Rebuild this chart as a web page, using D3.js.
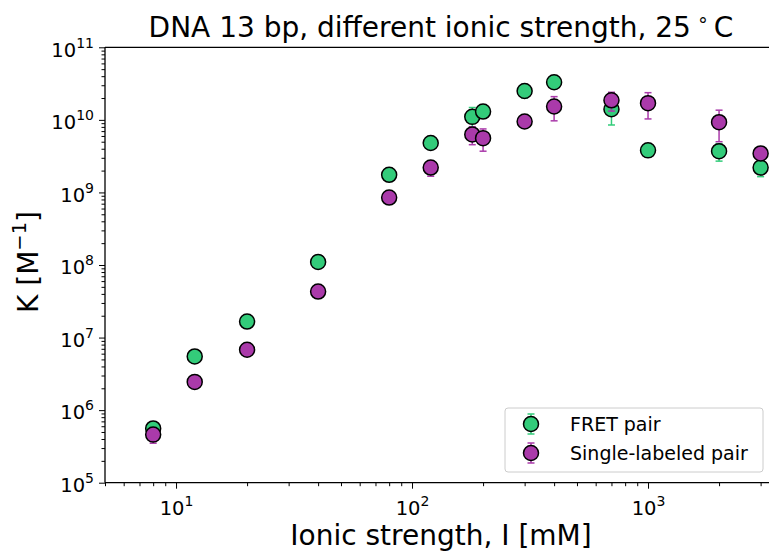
<!DOCTYPE html>
<html>
<head>
<meta charset="utf-8">
<script src="https://cdn.jsdelivr.net/npm/d3@7"></script>
<style>
  html, body { margin: 0; padding: 0; background: #fff; }
  svg { display: block; font-family: "DejaVu Sans", sans-serif; }
</style>
</head>
<body>
<script>
// ---- data ----
const ionic = [8, 12, 20, 40, 80, 120, 180, 200, 300, 400, 700, 1000, 2000, 3000];
const fretK = [5.6e5, 5.5e6, 1.66e7, 1.1e8, 1.75e9, 4.8e9, 1.1e10, 1.3e10, 2.5e10, 3.3e10, 1.4e10, 3.8e9, 3.7e9, 2.2e9];
const fretErr = [5e4, 3e5, 1e6, 5e6, 1e8, 4e8, 3.8e9, 1e9, 5e9, 2e9, 5.5e9, 2e8, 1e9, 5.5e8];
const singleK = [4.6e5, 2.45e6, 6.8e6, 4.3e7, 8.5e8, 2.2e9, 6.3e9, 5.6e9, 9.5e9, 1.53e10, 1.86e10, 1.7e10, 9.3e9, 3.45e9];
const singleErr = [1.1e5, 1.5e5, 5e5, 3e6, 5e7, 5.3e8, 1.75e9, 1.9e9, 5e8, 5.6e9, 5.4e9, 6.7e9, 4.3e9, 3e8];
const seriesNames = ["FRET pair", "Single-labeled pair"];
const seriesColors = ["#33cc7a", "#aa3aaa"];
const xMajorTicks = [10, 100, 1000];
const yMajorTicks = [1e5, 1e6, 1e7, 1e8, 1e9, 1e10, 1e11];
const titleText = "DNA 13 bp, different ionic strength, 25";
const xLabelText = "Ionic strength, I [mM]";

const W = 769, H = 551;
const svg = d3.select("body").append("svg").attr("width", W).attr("height", H);

const x = d3.scaleLog().domain([5, 4000]).range([105, 790.1]);
const y = d3.scaleLog().domain([1e5, 1e11]).range([482.7, 47.3]);

const x0 = x.range()[0], x1 = x.range()[1], yB = y.range()[0], yT = y.range()[1];

function minorTicks(domain) {
  const out = [];
  const lo = Math.floor(Math.log10(domain[0])), hi = Math.ceil(Math.log10(domain[1]));
  for (let e = lo; e <= hi; e++) {
    for (let m = 2; m <= 9; m++) {
      const v = m * Math.pow(10, e);
      if (v >= domain[0] && v <= domain[1]) out.push(v);
    }
  }
  return out;
}

function supLabel(sel, v) {
  const e = Math.round(Math.log10(v));
  sel.text(null);
  sel.append("tspan").text("10");
  sel.append("tspan").attr("dy", "-9px").style("font-size", "14px").text(String(e));
}

// x axis
const gx = svg.append("g").attr("transform", `translate(0,${yB})`);
gx.call(d3.axisBottom(x).tickValues(minorTicks(x.domain())).tickFormat("").tickSizeOuter(0).tickSize(3.5));
gx.select(".domain").remove();
const gxM = svg.append("g").attr("transform", `translate(0,${yB})`);
gxM.call(d3.axisBottom(x).tickValues(xMajorTicks).tickSizeOuter(0).tickSize(6).tickPadding(8));
gxM.select(".domain").remove();
gxM.selectAll(".tick text").style("font-size", "19.5px").style("font-family", "DejaVu Sans")
  .attr("fill", "#000").attr("dy", "0.95em").each(function(d) { supLabel(d3.select(this), d); });

// y axis
const gy = svg.append("g").attr("transform", `translate(${x0},0)`);
gy.call(d3.axisLeft(y).tickValues(minorTicks(y.domain())).tickFormat("").tickSizeOuter(0).tickSize(3.5));
gy.select(".domain").remove();
const gyM = svg.append("g").attr("transform", `translate(${x0},0)`);
gyM.call(d3.axisLeft(y).tickValues(yMajorTicks).tickSizeOuter(0).tickSize(6).tickPadding(5));
gyM.select(".domain").remove();
gyM.selectAll(".tick text").style("font-size", "19.5px").style("font-family", "DejaVu Sans")
  .attr("fill", "#000").attr("dy", "0.45em").each(function(d) { supLabel(d3.select(this), d); });

svg.selectAll(".tick line").attr("stroke", "#000").attr("stroke-width", 1);

// spines
svg.append("line").attr("x1", x0).attr("x2", x0).attr("y1", yT).attr("y2", yB).attr("stroke", "#000").attr("stroke-width", 1.3);
svg.append("line").attr("x1", x0).attr("x2", x1).attr("y1", yB).attr("y2", yB).attr("stroke", "#000").attr("stroke-width", 1.3);
svg.append("line").attr("x1", x0).attr("x2", x1).attr("y1", yT).attr("y2", yT).attr("stroke", "#000").attr("stroke-width", 1.3);
svg.append("line").attr("x1", x1).attr("x2", x1).attr("y1", yT).attr("y2", yB).attr("stroke", "#000").attr("stroke-width", 1.3);

// series
const series = [
  { name: seriesNames[0], color: seriesColors[0], vals: fretK, errs: fretErr },
  { name: seriesNames[1], color: seriesColors[1], vals: singleK, errs: singleErr }
];
const cap = 3.5;
series.forEach(s => {
  const data = ionic.map((xi, i) => ({ x: xi, k: s.vals[i], e: s.errs[i] }));
  const g = svg.append("g");
  const eb = g.selectAll("g.eb").data(data).join("g").attr("class", "eb")
    .attr("stroke", s.color).attr("stroke-width", 1.5);
  eb.append("line").attr("x1", d => x(d.x)).attr("x2", d => x(d.x))
    .attr("y1", d => y(d.k + d.e)).attr("y2", d => y(Math.max(d.k - d.e, 1e4)));
  eb.append("line").attr("x1", d => x(d.x) - cap).attr("x2", d => x(d.x) + cap)
    .attr("y1", d => y(d.k + d.e)).attr("y2", d => y(d.k + d.e));
  eb.append("line").attr("x1", d => x(d.x) - cap).attr("x2", d => x(d.x) + cap)
    .attr("y1", d => y(d.k - d.e)).attr("y2", d => y(d.k - d.e));
  g.selectAll("circle").data(data).join("circle")
    .attr("cx", d => x(d.x)).attr("cy", d => y(d.k)).attr("r", 7.5)
    .attr("fill", s.color).attr("stroke", "#000").attr("stroke-width", 1.5);
});

// legend
const lg = svg.append("g");
lg.append("rect").attr("x", 505).attr("y", 408).attr("width", 258).attr("height", 64)
  .attr("rx", 3).attr("fill", "#fff").attr("fill-opacity", 0.8).attr("stroke", "#cccccc").attr("stroke-width", 1);
series.forEach((s, i) => {
  const cy = 424 + i * 29, cx = 531;
  lg.append("line").attr("x1", cx).attr("x2", cx).attr("y1", cy - 10).attr("y2", cy + 10).attr("stroke", s.color).attr("stroke-width", 1.5);
  lg.append("line").attr("x1", cx - cap).attr("x2", cx + cap).attr("y1", cy - 10).attr("y2", cy - 10).attr("stroke", s.color).attr("stroke-width", 1.5);
  lg.append("line").attr("x1", cx - cap).attr("x2", cx + cap).attr("y1", cy + 10).attr("y2", cy + 10).attr("stroke", s.color).attr("stroke-width", 1.5);
  lg.append("circle").attr("cx", cx).attr("cy", cy).attr("r", 7.5).attr("fill", s.color).attr("stroke", "#000").attr("stroke-width", 1.5);
  lg.append("text").attr("x", 570).attr("y", cy + 7).style("font-size", "19px").attr("fill", "#000").text(s.name);
});

// title
const t = svg.append("text").attr("x", 441).attr("y", 37).attr("text-anchor", "middle")
  .style("font-size", "28px").attr("fill", "#000");
t.append("tspan").text(titleText);
t.append("tspan").attr("dx", "6px").attr("dy", "-11px").style("font-size", "19px").text("\u2218");
t.append("tspan").attr("dx", "5px").attr("dy", "11px").text("C");

// x label
svg.append("text").attr("x", 441).attr("y", 545).attr("text-anchor", "middle")
  .style("font-size", "28px").attr("fill", "#000").text(xLabelText);

// y label
const yl = svg.append("text").attr("transform", "translate(38,262) rotate(-90)").attr("text-anchor", "middle")
  .style("font-size", "28px").attr("fill", "#000");
yl.append("tspan").text("K [M");
yl.append("tspan").attr("dy", "-12px").style("font-size", "19.5px").text("\u22121");
yl.append("tspan").attr("dy", "12px").text("]");
</script>
</body>
</html>
